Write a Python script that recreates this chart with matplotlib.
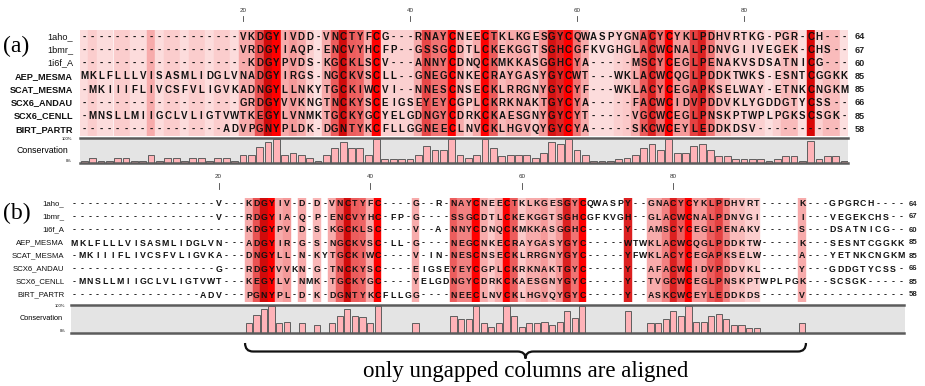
import matplotlib
matplotlib.use('Agg')
import matplotlib.pyplot as plt
from matplotlib.colors import LinearSegmentedColormap
from matplotlib.path import Path
from matplotlib.patches import PathPatch

# sequence names and residue counts (same for both panels)
names = ['1aho_', '1bmr_', '1i6f_A', 'AEP_MESMA', 'SCAT_MESMA',
         'SCX6_ANDAU', 'SCX6_CENLL', 'BIRT_PARTR']
lengths = [64, 67, 60, 85, 85, 66, 85, 58]

# (a) full alignment, 92 columns
seqs_a = [
    '-' * 19 + 'VKDGYIVDD-VNCTYFCG---RNAYCNEECTKLKGESGYCQWASPYGNACYCYKLPDHVRTKG-PGR-CH---',
    '-' * 19 + 'VRDGYIAQP-ENCVYHCFP--GSSGCDTLCKEKGGTSGHCGFKVGHGLACWCNALPDNVGIIVEGEK-CHS--',
    '-' * 20 + 'KDGYPVDS-KGCKLSCV---ANNYCDNQCKMKKASGGHCYA-----MSCYCEGLPENAKVSDSATNICG---',
    'MKLFLLLVISASMLIDGLVNADGYIRGS-NGCKVSCLL--GNEGCNKECRAYGASYGYCWT---WKLACWCQGLPDDKTWKS-ESNTCGGKK',
    '-MKIIIFLIVCSFVLIGVKADNGYLLNKYTGCKIWCVI--NNESCNSECKLRRGNYGYCYF---WKLACYCEGAPKSELWAY-ETNKCNGKM',
    '-' * 19 + 'GRDGYVVKNGTNCKYSCEIGSEYEYCGPLCKRKNAKTGYCYA-----FACWCIDVPDDVKLYGDDGTYCSS--',
    '-MNSLLMIIGCLVLIGTVWTKEGYLVNMKTGCKYGCYELGDNGYCDRKCKAESGNYGYCYT-----VGCWCEGLPNSKPTWPLPGKSCSGK-',
    '-' * 17 + 'ADVPGNYPLDK-DGNTYKCFLLGGNEECLNVCKLHGVQYGYCYA-----SKCWCEYLEDDKDSV' + '-' * 11,
]

# (b) alignment where only ungapped columns are aligned, 110 columns
seqs_b = [
    '-' * 19 + 'V---KDGYIV-D-D-VNCTYFC----G--R-NAYCNEECTKLKGESGYCQWASPY--GNACYCYKLPDHVRT-----K---GPGRCH----',
    '-' * 19 + 'V---RDGYIA-Q-P-ENCVYHC-FP-G----SSGCDTLCKEKGGTSGHCGFKVGH--GLACWCNALPDNVGI-----I---VEGEKCHS--',
    '-' * 23 + 'KDGYPV-D-S-KGCKLSC----V--A-NNYCDNQCKMKKASGGHC-----Y--AMSCYCEGLPENAKV-----S---DSATNICG--',
    'MKLFLLLVISASMLIDGLVN---ADGYIR-G-S-NGCKVSC-LL-G----NEGCNKECRAYGASYGYC-----WTWKLACWCQGLPDDKTW-----K---SESNTCGGKK',
    '-MKIIIFLIVCSFVLIGVKA---DNGYLL-N-KYTGCKIWC----V-IN-NESCNSECKLRRGNYGYC-----YFWKLACYCEGAPKSELW-----A---YETNKCNGKM',
    '-' * 19 + 'G---RDGYVVKN-G-TNCKYSC----EIGSEYEYCGPLCKRKNAKTGYC-----Y--AFACWCIDVPDDVKL-----Y---GDDGTYCSS-',
    '-MNSLLMIIGCLVLIGTVWT---KEGYLV-NMK-TGCKYGC----YELGDNGYCDRKCKAESGNYGYC-----Y--TVGCWCEGLPNSKPTWPLPGK---SCSGK-----',
    '-' * 17 + 'ADV---PGNYPL-D-K-DGNTYKCFLLGG----NEECLNVCKLHGVQYGYC-----Y--ASKCWCEYLEDDKDS-----V' + '-' * 13,
]

# conservation, (a) one value per column
cons_a = [0.10, 0.20, 0.10, 0.10, 0.20, 0.20, 0.10, 0.10, 0.35, 0.10,
          0.20, 0.20, 0.10, 0.20, 0.20, 0.10, 0.20, 0.20, 0.10, 0.35,
          0.35, 0.65, 0.88, 1.00, 0.35, 0.42, 0.35, 0.20, 0.08, 0.35,
          0.62, 0.88, 0.62, 0.60, 0.35, 1.00, 0.18, 0.18, 0.18, 0.18,
          0.35, 0.68, 0.55, 0.55, 1.00, 0.35, 0.20, 0.35, 1.00, 0.62,
          0.28, 0.35, 0.35, 0.35, 0.22, 0.42, 0.85, 0.78, 1.00, 0.55,
          0.35, 0.10, 0.10, 0.10, 0.18, 0.22, 0.35, 0.62, 0.80, 0.55,
          1.00, 0.42, 0.42, 0.70, 0.80, 0.55, 0.28, 0.28, 0.18, 0.18,
          0.18, 0.18, 0.08, 0.18, 0.28, 0.28, 0.08, 0.92, 0.18, 0.28,
          0.28, 0.08]
# (b) one value per ungapped column, left to right
cons_b = [0.35, 0.65, 0.88, 1.00, 0.35, 0.42, 0.35, 0.30, 0.35, 0.62,
          0.88, 0.62, 0.60, 0.35, 1.00, 0.35, 0.62, 0.50, 0.50, 1.00,
          0.35, 0.22, 0.35, 1.00, 0.62, 0.22, 0.35, 0.35, 0.42, 0.28,
          0.42, 0.80, 0.55, 1.00, 0.80, 0.35, 0.35, 0.50, 0.80, 0.62,
          1.00, 0.42, 0.42, 0.62, 0.70, 0.50, 0.28, 0.28, 0.20, 0.20,
          0.35]
tick_cols = [20, 40, 60, 80]

W, H = 925, 386
fig = plt.figure(figsize=(W / 100, H / 100), dpi=100)
plt.rcParams['font.family'] = ['Liberation Sans', 'DejaVu Sans']

cmap = LinearSegmentedColormap.from_list('cons', [
    (0.0, '#fdeaea'), (0.2, '#fbcdcd'), (0.4, '#f6a0a0'), (0.6, '#ee6464'),
    (0.8, '#dc2020'), (0.9, '#cf0606'), (1.0, '#ff0000')])


def px_axes(x0, y0, x1, y1):
    return fig.add_axes([x0 / W, 1 - y1 / H, (x1 - x0) / W, (y1 - y0) / H])


def draw_panel(seqs, cols, vals, x0, colw, top, rowh, s_top, s_bot,
               fs, name_fs, bold_names, tick_lab_y, tick_y, num_x,
               cons_lab):
    n = len(seqs[0])
    nrow = len(seqs)
    ax = px_axes(x0, top, x0 + n * colw, top + nrow * rowh)
    ax.set_xlim(0.5, n + 0.5)
    ax.set_ylim(nrow - 0.5, -0.5)
    ax.axis('off')
    # column background by conservation
    ax.bar(cols, nrow, bottom=-0.5, width=1.0, color=cmap(vals),
           edgecolor=cmap(vals), linewidth=0.3)
    for i, s in enumerate(seqs):
        for j, ch in enumerate(s):
            ax.text(j + 1, i, ch, ha='center', va='center', fontsize=fs,
                    fontweight='bold', color='#111111')
        ax.text(-0.35, i, names[i], ha='right', va='center', fontsize=name_fs,
                fontweight='bold' if bold_names[i] else 'normal',
                color='#111111', clip_on=False)
        ax.text(num_x, i, str(lengths[i]), ha='left', va='center',
                fontsize=name_fs, fontweight='bold', color='#222222', clip_on=False)
    for t in tick_cols:
        ax.text(t, tick_lab_y, str(t), ha='center', va='center', fontsize=4.5,
                color='#333333', clip_on=False)
        ax.plot([t, t], tick_y, color='#444444', lw=0.6, clip_on=False)

    # conservation strip
    sx = px_axes(x0, s_top, x0 + n * colw, s_bot)
    sx.set_xlim(0.5, n + 0.5)
    sx.set_ylim(0, 1.03)
    sx.set_facecolor('#e4e4e4')
    sx.set_xticks([])
    sx.set_yticks([])
    for side in ['left', 'right']:
        sx.spines[side].set_visible(False)
    for side in ['top', 'bottom']:
        sx.spines[side].set_linewidth(1.8)
        sx.spines[side].set_color('#5c5c5c')
    sx.bar(cols, vals, width=0.82, color='#ffb3b8', edgecolor='#5e5e5e',
           linewidth=0.7)
    lx, cfs = cons_lab
    tr = sx.get_xaxis_transform()
    sx.text(lx, 0.5, 'Conservation', transform=tr,
            ha='right', va='center', fontsize=cfs, clip_on=False)
    sx.text(lx + 0.4, 0.95, '100%', transform=tr,
            ha='right', va='center', fontsize=3, clip_on=False)
    sx.text(lx + 0.4, 0.06, '0%', transform=tr,
            ha='right', va='center', fontsize=3, clip_on=False)
    return ax


# panel (a): every column has a conservation value
cols_a = list(range(1, len(seqs_a[0]) + 1))
draw_panel(seqs_a, cols_a, cons_a, x0=80.1, colw=8.35, top=30.2, rowh=13.2,
           s_top=138, s_bot=163, fs=7, name_fs=6.6,
           bold_names=[False, False, False, True, True, True, True, True],
           tick_lab_y=-2.0, tick_y=[-1.6, -1.2], num_x=93.3,
           cons_lab=(-0.9, 6.3))

# panel (b): only columns without gaps
cols_b = [j + 1 for j in range(len(seqs_b[0]))
          if all(s[j] != '-' for s in seqs_b)]
draw_panel(seqs_b, cols_b, cons_b, x0=70.7, colw=7.58, top=197.5, rowh=13.0,
           s_top=305, s_bot=333, fs=6.3, name_fs=5.6,
           bold_names=[False] * 8,
           tick_lab_y=-2.1, tick_y=[-1.6, -1.15], num_x=111.0,
           cons_lab=(-0.6, 5.3))

# overlay for panel labels, brace and caption
ov = fig.add_axes([0, 0, 1, 1])
ov.set_xlim(0, W)
ov.set_ylim(H, 0)
ov.axis('off')
ov.patch.set_alpha(0)

ov.text(3, 46, '(a)', family=['Liberation Serif'], fontsize=17,
        ha='left', va='center')
ov.text(3, 213, '(b)', family=['Liberation Serif'], fontsize=17,
        ha='left', va='center')

xl = 70.7 + (cols_b[0] - 1) * 7.58
xr = 70.7 + cols_b[-1] * 7.58
xc = (xl + xr) / 2
yt, ym, yp = 343, 351.5, 358.5
verts = [(xl, yt), (xl, ym), (xl + 8, ym),
         (xc - 8, ym), (xc, ym), (xc, yp),
         (xc, ym), (xc + 8, ym),
         (xr - 8, ym), (xr, ym), (xr, yt)]
codes = [Path.MOVETO, Path.CURVE3, Path.CURVE3,
         Path.LINETO, Path.CURVE3, Path.CURVE3,
         Path.CURVE3, Path.CURVE3,
         Path.LINETO, Path.CURVE3, Path.CURVE3]
ov.add_patch(PathPatch(Path(verts, codes), facecolor='none',
                       edgecolor='#111111', lw=1.6))

ov.text(xc, 372, 'only ungapped columns are aligned',
        family=['Liberation Serif'], fontsize=16.5, ha='center', va='center')

fig.savefig('out.png', dpi=100)
